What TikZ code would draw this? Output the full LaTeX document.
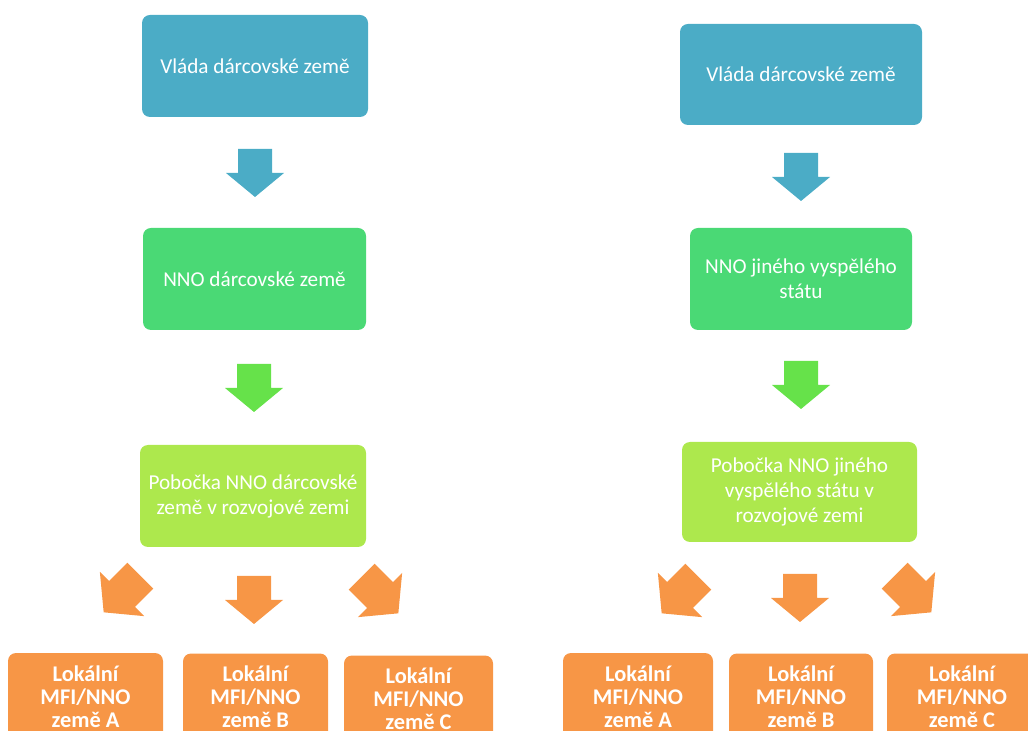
\documentclass[tikz,border=0pt]{standalone}
\usepackage{fontspec}
\setmainfont{Carlito}
\definecolor{vlada}{HTML}{4BACC6}
\definecolor{nno}{HTML}{4AD975}
\definecolor{sipkazel}{HTML}{66E24A}
\definecolor{pobocka}{HTML}{ADE84D}
\definecolor{oranz}{HTML}{F79646}

\begin{document}
\begin{tikzpicture}[x=0.5pt,y=-0.5pt]
	\tikzset{box/.style={rectangle,rounded corners=4pt,text=white,align=center,inner sep=0pt,
		font=\fontsize{10.6}{12.5}\selectfont}}
	\tikzset{lok/.style={box,fill=oranz,minimum width=#1,minimum height=43.5pt,
		font=\bfseries\fontsize{11.2}{11.5}\selectfont}}
	\tikzset{sipka/.pic={\fill (-17,-24) -- (17,-24) -- (17,0) -- (29,0) -- (0,24) -- (-29,0) -- (-17,0) -- cycle;}}

	\useasboundingbox (0,0) rectangle (1028,731);
	\clip (0,0) rectangle (1028,731);

	% darcovska zeme
	\node[box,fill=vlada,minimum width=113pt,minimum height=51pt] (vlada1) at (255,66) {Vláda dárcovské země};
	\pic[color=vlada] at (255,173) {sipka};
	\node[box,fill=nno,minimum width=111.5pt,minimum height=51pt] (nno1) at (254.5,279) {NNO dárcovské země};
	\pic[color=sipkazel] at (254,388) {sipka};
	\node[box,fill=pobocka,minimum width=113pt,minimum height=51pt] (pob1) at (253,496) {Pobočka NNO dárcovské\\země v rozvojové zemi};
	\pic[color=oranz,rotate=-45,scale=1.08] at (122,594) {sipka};
	\pic[color=oranz] at (254,600) {sipka};
	\pic[color=oranz,rotate=45,scale=1.08] at (380,595) {sipka};
	\node[lok=77.5pt] (lokA1) at (85.5,696.5) {Lokální\\MFI/NNO\\země A};
	\node[lok=72.5pt] (lokB1) at (255.5,697) {Lokální\\MFI/NNO\\země B};
	\node[lok=74.5pt] (lokC1) at (418.5,699) {Lokální\\MFI/NNO\\země C};

	% jiny vyspely stat
	\node[box,fill=vlada,minimum width=121pt,minimum height=50.5pt] (vlada2) at (801,74.5) {Vláda dárcovské země};
	\pic[color=vlada] at (801,177) {sipka};
	\node[box,fill=nno,minimum width=111pt,minimum height=51pt] (nno2) at (801,279) {NNO jiného vyspělého\\státu};
	\pic[color=sipkazel] at (801,385) {sipka};
	\node[box,fill=pobocka,minimum width=117.5pt,minimum height=50pt] (pob2) at (799.5,492) {Pobočka NNO jiného\\vyspělého státu v\\rozvojové zemi};
	\pic[color=oranz,rotate=-45,scale=1.08] at (680,595) {sipka};
	\pic[color=oranz] at (800,598) {sipka};
	\pic[color=oranz,rotate=45,scale=1.08] at (913,594) {sipka};
	\node[lok=75pt] (lokA2) at (638,696.5) {Lokální\\MFI/NNO\\země A};
	\node[lok=72pt] (lokB2) at (801,697) {Lokální\\MFI/NNO\\země B};
	\node[lok=75pt] (lokC2) at (962,697) {Lokální\\MFI/NNO\\země C};
\end{tikzpicture}
\end{document}
